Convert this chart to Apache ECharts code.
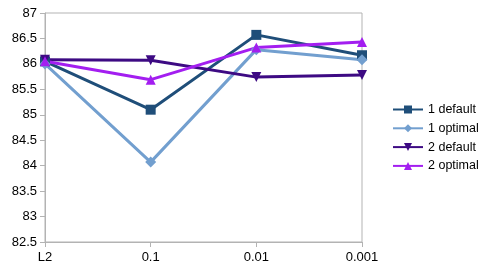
<!DOCTYPE html>
<html><head><meta charset="utf-8">
<script src="https://cdn.jsdelivr.net/npm/echarts@6/dist/echarts.min.js"></script>
<style>html,body{margin:0;padding:0;background:#fff}#c{width:492px;height:273px}</style>
</head><body><div id="c"></div>
<script>
const categories = ['L2', '0.1', '0.01', '0.001'];
const seriesNames = ['1 default', '1 optimal', '2 default', '2 optimal'];
const s1default = [86.05, 85.10, 86.57, 86.17];
const s1optimal = [86.00, 84.07, 86.28, 86.08];
const s2default = [86.08, 86.07, 85.74, 85.78];
const s2optimal = [86.05, 85.69, 86.32, 86.43];
const yMin = 82.5, yMax = 87, yStep = 0.5;

const colors = ['#1f4e79', '#729fcf', '#3d0a83', '#a31ef0'];
const symbols = ['rect', 'diamond', 'path://M0,0 L10,0 L5,10 Z', 'triangle'];
const data = [s1default, s1optimal, s2default, s2optimal];

const chart = echarts.init(document.getElementById('c'), null, {renderer: 'canvas'});
chart.setOption({
  animation: false,
  textStyle: {fontFamily: 'Liberation Sans'},
  grid: {left: 45, right: 130, top: 13, bottom: 31, show: true, borderColor: '#b3b3b3', borderWidth: 1},
  legend: {
    orient: 'vertical', left: 387, top: 98, itemWidth: 30, itemHeight: 10, itemGap: 5.8,
    textStyle: {fontSize: 12.5, color: '#000', fontFamily: 'Liberation Sans'},
    data: seriesNames
  },
  xAxis: {
    type: 'category', data: categories, boundaryGap: false,
    axisLine: {lineStyle: {color: '#b3b3b3'}},
    axisTick: {alignWithLabel: true, length: 5, lineStyle: {color: '#b3b3b3'}},
    axisLabel: {color: '#000', fontSize: 13, margin: 9},
    splitLine: {show: false}
  },
  yAxis: {
    type: 'value', min: yMin, max: yMax, interval: yStep,
    axisLine: {show: true, lineStyle: {color: '#b3b3b3'}},
    axisTick: {show: true, length: 5, lineStyle: {color: '#b3b3b3'}},
    axisLabel: {color: '#000', fontSize: 13, margin: 8},
    splitLine: {show: false}
  },
  series: data.map((d, i) => ({
    name: seriesNames[i], type: 'line', data: d,
    symbol: symbols[i], symbolSize: i === 1 ? 11 : 10, showSymbol: true,
    itemStyle: {color: colors[i]},
    lineStyle: {color: colors[i], width: 3}
  }))
});
</script></body></html>
